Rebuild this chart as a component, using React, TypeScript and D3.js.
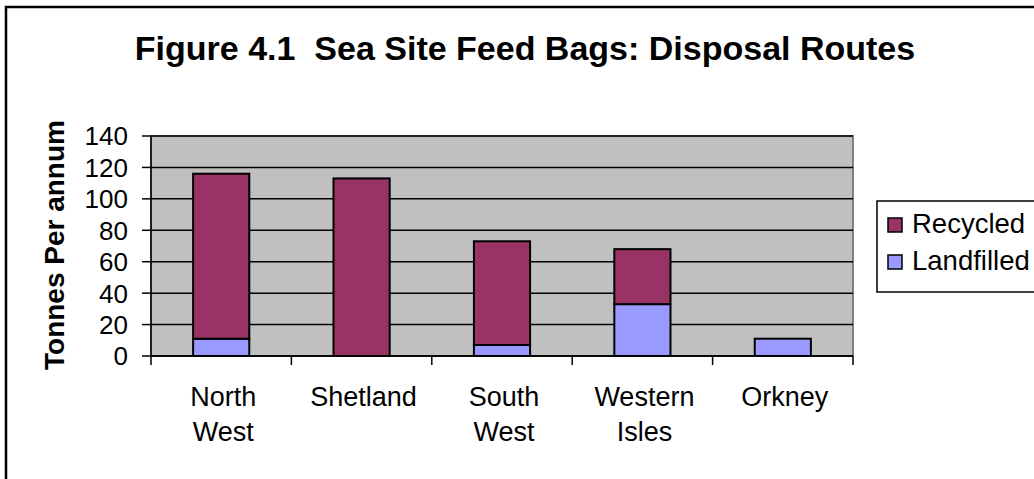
import React from "react";
import * as d3 from "d3";

// Disposal route tonnages per region (tonnes per annum)
const categories: string[][] = [
  ["North", "West"],
  ["Shetland"],
  ["South", "West"],
  ["Western", "Isles"],
  ["Orkney"],
];
const landfilled: number[] = [11, 0, 7, 33, 11];
const recycled: number[] = [105, 113, 66, 35, 0];
const yTicks: number[] = [0, 20, 40, 60, 80, 100, 120, 140];
const seriesNames: string[] = ["Recycled", "Landfilled"];
const seriesColors: string[] = ["#993366", "#9999FF"];

const W = 1034;
const H = 479;
const plot = { left: 151, right: 853, top: 136, bottom: 356 };
const FONT = "'Liberation Sans', Arial, sans-serif";

export default function App() {
  const keys = categories.map((c) => c.join(" "));
  const x = d3
    .scaleBand<string>()
    .domain(keys)
    .range([plot.left, plot.right])
    .padding(0);
  const y = d3.scaleLinear().domain([0, 140]).range([plot.bottom, plot.top]);

  const rows = keys.map((k, i) => ({
    key: k,
    Landfilled: landfilled[i],
    Recycled: recycled[i],
  }));
  const stack = d3.stack<any>().keys(["Landfilled", "Recycled"]);
  const layers = stack(rows);
  const colorOf: Record<string, string> = {
    Recycled: seriesColors[0],
    Landfilled: seriesColors[1],
  };

  const barW = x.bandwidth() * 0.4;
  const boundaries = [...keys.map((k) => x(k)!), plot.right];

  return (
    <svg
      width={W}
      height={H}
      style={{ position: "absolute", left: 0, top: 0, background: "#fff" }}
      fontFamily={FONT}
    >
      {/* chart frame */}
      <rect x={6} y={7} width={1100} height={600} fill="#fff" stroke="#000" strokeWidth={2.5} />

      <text
        x={525}
        y={60}
        textAnchor="middle"
        fontSize={34}
        fontWeight="bold"
        fill="#000"
        style={{ whiteSpace: "pre" }}
      >
        {"Figure 4.1  Sea Site Feed Bags: Disposal Routes"}
      </text>

      {/* plot area */}
      <rect
        x={plot.left}
        y={plot.top}
        width={plot.right - plot.left}
        height={plot.bottom - plot.top}
        fill="#C0C0C0"
        stroke="#808080"
        strokeWidth={2}
      />

      {/* gridlines */}
      {yTicks.map((t) => (
        <line
          key={"g" + t}
          x1={plot.left}
          x2={plot.right}
          y1={y(t)}
          y2={y(t)}
          stroke="#000"
          strokeWidth={1.5}
        />
      ))}

      {/* stacked bars */}
      {layers.map((layer) =>
        layer.map((d, i) => {
          const h = y(d[0]) - y(d[1]);
          if (h <= 0) return null;
          const cx = x(keys[i])! + x.bandwidth() / 2;
          return (
            <rect
              key={layer.key + i}
              x={cx - barW / 2}
              y={y(d[1])}
              width={barW}
              height={h}
              fill={colorOf[layer.key]}
              stroke="#000"
              strokeWidth={2}
            />
          );
        })
      )}

      {/* axes */}
      <line x1={plot.left} x2={plot.left} y1={plot.top} y2={plot.bottom} stroke="#000" strokeWidth={1.5} />
      <line x1={plot.left} x2={plot.right} y1={plot.bottom} y2={plot.bottom} stroke="#000" strokeWidth={1.5} />
      {yTicks.map((t) => (
        <g key={"t" + t}>
          <line x1={plot.left - 9} x2={plot.left} y1={y(t)} y2={y(t)} stroke="#000" strokeWidth={1.5} />
          <text
            x={128}
            y={y(t)}
            dy="0.36em"
            textAnchor="end"
            fontSize={26}
            fill="#000"
          >
            {t}
          </text>
        </g>
      ))}
      {boundaries.map((bx, i) => (
        <line key={"xt" + i} x1={bx} x2={bx} y1={plot.bottom} y2={plot.bottom + 9} stroke="#000" strokeWidth={1.5} />
      ))}
      {categories.map((lines, i) => {
        const cx = x(keys[i])! + x.bandwidth() / 2 + 2;
        return (
          <text key={"c" + i} x={cx} y={406} textAnchor="middle" fontSize={27} fill="#000">
            {lines.map((ln, j) => (
              <tspan key={j} x={cx} dy={j === 0 ? 0 : 35}>
                {ln}
              </tspan>
            ))}
          </text>
        );
      })}

      <text
        transform={`translate(64, ${(plot.top + plot.bottom) / 2 - 1}) rotate(-90)`}
        textAnchor="middle"
        fontSize={28}
        fontWeight="bold"
        fill="#000"
      >
        Tonnes Per annum
      </text>

      {/* legend */}
      <rect x={877} y={201} width={220} height={91} fill="#fff" stroke="#000" strokeWidth={1.5} />
      {seriesNames.map((name, i) => (
        <g key={name}>
          <rect
            x={888}
            y={218 + i * 37}
            width={14}
            height={14}
            fill={seriesColors[i]}
            stroke="#000"
            strokeWidth={1.5}
          />
          <text x={912} y={233 + i * 37} fontSize={27.5} fill="#000">
            {name}
          </text>
        </g>
      ))}
    </svg>
  );
}
